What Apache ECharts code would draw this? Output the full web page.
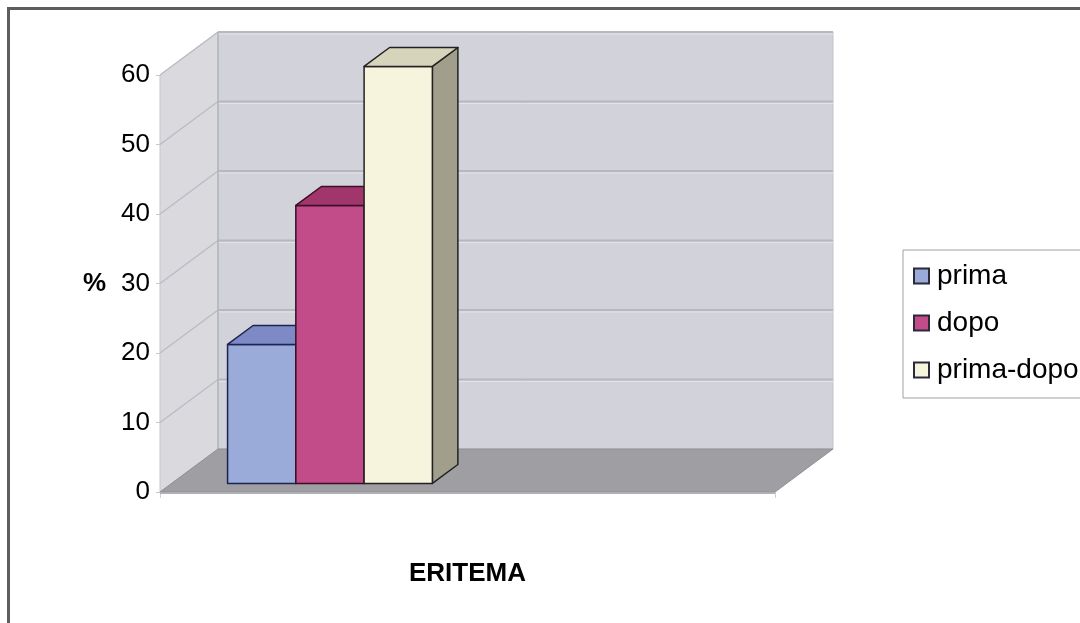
<!DOCTYPE html>
<html>
<head>
<meta charset="utf-8">
<script src="https://cdn.jsdelivr.net/npm/echarts@6/dist/echarts.min.js"></script>
<style>
  html, body { margin: 0; padding: 0; background: #fff; }
  #main { width: 1080px; height: 623px; }
</style>
</head>
<body>
<div id="main"></div>
<script>
// data
const categories = ['ERITEMA'];
const seriesNames = ['prima', 'dopo', 'prima-dopo'];
const prima = [20];
const dopo = [40];
const primaDopo = [60];
const yTicks = [0, 10, 20, 30, 40, 50, 60];

// 3d look
const DEPTH = [58, -43];          // floor depth vector in px
const FRONT = 0.2, BACK = 0.64;   // bar front / back plane as share of depth
const BAR_START = 0.091, BAR_W = 0.111;
const faces = [
  { front: '#9aaad9', top: '#7d8ac6', side: '#5d6aa2', line: '#1c2450' },
  { front: '#c24b89', top: '#a1366d', side: '#862a5a', line: '#3a0f24' },
  { front: '#f7f4dd', top: '#d6d4bb', side: '#a19e8b', line: '#222222' }
];

const chart = echarts.init(document.getElementById('main'));

function wallRender(params, api) {
  const yMax = yTicks[yTicks.length - 1];
  const base = api.coord([0, 0]);
  const top = api.coord([0, yMax]);
  const bw = api.size([1, 0])[0];
  const l = base[0] - bw / 2, r = base[0] + bw / 2;
  const y0 = base[1], y1 = top[1];
  const dx = DEPTH[0], dy = DEPTH[1];
  const kids = [];
  // back wall
  kids.push({ type: 'rect', shape: { x: l + dx, y: y1 + dy, width: r - l, height: y0 - y1 },
    style: { fill: '#d2d2da', stroke: '#c4c4cc', lineWidth: 1 } });
  // side wall
  kids.push({ type: 'polygon', shape: { points: [[l, y0], [l, y1], [l + dx, y1 + dy], [l + dx, y0 + dy]] },
    style: { fill: '#d9d9de', stroke: '#c6c6cc', lineWidth: 1 } });
  // grid lines
  yTicks.forEach(function (v) {
    if (v === 0) return;
    const y = api.coord([0, v])[1];
    kids.push({ type: 'line', shape: { x1: l + dx, y1: y + dy, x2: r + dx, y2: y + dy },
      style: { stroke: '#b7b7c0', lineWidth: 2 } });
    kids.push({ type: 'line', shape: { x1: l + dx, y1: y + dy + 2, x2: r + dx, y2: y + dy + 2 },
      style: { stroke: '#e2e2e8', lineWidth: 1 } });
    kids.push({ type: 'line', shape: { x1: l, y1: y, x2: l + dx, y2: y + dy },
      style: { stroke: '#bcbcc4', lineWidth: 1.5 } });
  });
  // back wall left edge
  kids.push({ type: 'line', shape: { x1: l + dx, y1: y1 + dy, x2: l + dx, y2: y0 + dy },
    style: { stroke: '#b4b4bc', lineWidth: 1.5 } });
  // floor
  kids.push({ type: 'polygon', shape: { points: [[l, y0], [r, y0], [r + dx, y0 + dy], [l + dx, y0 + dy]] },
    style: { fill: '#9e9ea3', stroke: '#8f8f94', lineWidth: 1 } });
  kids.push({ type: 'line', shape: { x1: l, y1: y0 + 1, x2: r, y2: y0 + 1 },
    style: { stroke: '#b0b0b4', lineWidth: 2 } });
  return { type: 'group', children: kids };
}

function barRender(slot) {
  return function (params, api) {
    const f = faces[slot];
    const cat = api.value(0), val = api.value(1);
    const base = api.coord([cat, 0]);
    const top = api.coord([cat, val]);
    const bw = api.size([1, 0])[0];
    const w = bw * BAR_W;
    const x = base[0] - bw / 2 + bw * (BAR_START + slot * BAR_W) + DEPTH[0] * FRONT;
    const y0 = base[1] + DEPTH[1] * FRONT;
    const y1 = top[1] + DEPTH[1] * FRONT;
    const ddx = DEPTH[0] * (BACK - FRONT), ddy = DEPTH[1] * (BACK - FRONT);
    const st = function (fill) { return { fill: fill, stroke: f.line, lineWidth: 1.5, lineJoin: 'round' }; };
    return {
      type: 'group',
      children: [
        { type: 'polygon', shape: { points: [[x + w, y1], [x + w + ddx, y1 + ddy], [x + w + ddx, y0 + ddy], [x + w, y0]] }, style: st(f.side) },
        { type: 'rect', shape: { x: x, y: y1, width: w, height: y0 - y1 }, style: st(f.front) },
        { type: 'polygon', shape: { points: [[x, y1], [x + w, y1], [x + w + ddx, y1 + ddy], [x + ddx, y1 + ddy]] }, style: st(f.top) }
      ]
    };
  };
}

const values = [prima, dopo, primaDopo];
const barSeries = seriesNames.map(function (name, i) {
  return {
    name: name,
    type: 'custom',
    renderItem: barRender(i),
    itemStyle: { color: faces[i].front, borderColor: faces[i].line, borderWidth: 1 },
    data: categories.map(function (c, j) { return [j, values[i][j]]; }),
    z: 3
  };
});

const option = {
  animation: false,
  textStyle: { fontFamily: '"Liberation Sans", Arial, sans-serif' },
  graphic: [{
    type: 'rect', left: 6, top: 6, shape: { width: 1200, height: 800 },
    style: { fill: 'none', stroke: '#5e5e5e', lineWidth: 3 }, silent: true
  }],
  grid: { left: 160, right: 305, top: 75, bottom: 131 },
  legend: {
    orient: 'vertical',
    left: 903,
    top: 250,
    padding: [12, 40, 14, 10],
    borderColor: '#a0a0a0',
    borderWidth: 1,
    itemWidth: 15,
    itemHeight: 15,
    itemGap: 19,
    icon: 'rect',
    textStyle: { fontSize: 28, color: '#000', lineHeight: 28, padding: [0, 0, 0, 3] },
    data: seriesNames.map(function (n, i) {
      return { name: n, itemStyle: { color: faces[i].front, borderColor: '#2a2a3a', borderWidth: 2 } };
    })
  },
  xAxis: {
    type: 'category',
    data: categories,
    axisLine: { show: false },
    axisTick: { show: true, length: 6, lineStyle: { color: '#cfcfcf' } },
    axisLabel: { margin: 69, fontSize: 26, fontWeight: 'bold', color: '#000' }
  },
  yAxis: {
    type: 'value',
    min: 0, max: 60, interval: 10,
    name: '%',
    nameLocation: 'middle',
    nameRotate: 0,
    nameGap: 54,
    nameTextStyle: { fontSize: 26, fontWeight: 'bold', color: '#000' },
    splitLine: { show: false },
    axisLine: { show: true, lineStyle: { color: '#a8a8a8', width: 1 } },
    axisTick: { show: true, length: 4, lineStyle: { color: '#c8c8c8' } },
    axisLabel: { fontSize: 26, color: '#000', margin: 10 }
  },
  series: [{
    name: 'walls',
    type: 'custom',
    renderItem: wallRender,
    data: [[0, yTicks[yTicks.length - 1]]],
    silent: true,
    z: 1
  }].concat(barSeries)
};

chart.setOption(option);
</script>
</body>
</html>
